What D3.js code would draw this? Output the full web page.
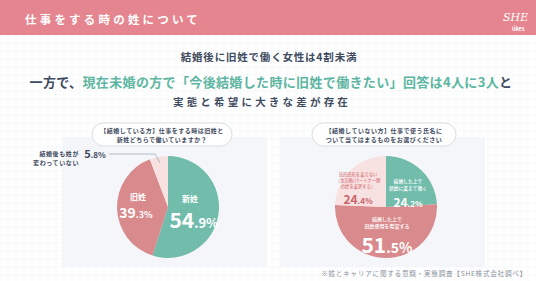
<!DOCTYPE html>
<html>
<head>
<meta charset="utf-8">
<script src="https://cdn.jsdelivr.net/npm/d3@7"></script>
<style>
  body { margin: 0; background: #fff; }
  svg { display: block; font-family: "Noto Sans CJK JP", "Noto Sans", sans-serif; }
</style>
</head>
<body>
<div id="chart"></div>
<script>
// data
const marriedLabels = ["新姓", "旧姓", "結婚後も姓が変わっていない"];
const marriedValues = [54.9, 39.3, 5.8];
const unmarriedLabels = ["結婚した上で新姓に変えて働く", "結婚した上で旧姓使用を希望する", "法的氏名を変えない（事実婚/パートナー側の姓を変更する）"];
const unmarriedValues = [24.2, 51.5, 24.4];
const questions = [
    ["【結婚している方】仕事をする時は旧姓と", "新姓どちらで働いていますか？"],
    ["【結婚していない方】仕事で使う氏名に", "ついて当てはまるものをお選びください"]
];

const W = 536, H = 281;
const teal = "#72bcac", pink = "#d98a8c", lightPink = "#f8e1e1";
const navy = "#3f4b5e", green = "#5db6a2";

const svg = d3.select("#chart").append("svg")
    .attr("width", W)
    .attr("height", H);

// faint grid background
const grid = svg.append("g");
grid.selectAll("line.v").data(d3.range(0, W, 8)).enter()
    .append("line")
    .attr("x1", d => d).attr("x2", d => d)
    .attr("y1", 35).attr("y2", H)
    .attr("stroke", "#f1f4f7").attr("stroke-width", 0.6);
grid.selectAll("line.h").data(d3.range(35, H, 8)).enter()
    .append("line")
    .attr("x1", 0).attr("x2", W)
    .attr("y1", d => d).attr("y2", d => d)
    .attr("stroke", "#f1f4f7").attr("stroke-width", 0.6);

// header
svg.append("rect").attr("width", W).attr("height", 35).attr("fill", "#e5858f");
svg.append("text")
    .attr("x", 25).attr("y", 24)
    .attr("fill", "#fff")
    .attr("font-size", 11.5)
    .attr("font-weight", 700)
    .attr("letter-spacing", 3.2)
    .text("仕事をする時の姓について");
svg.append("text")
    .attr("x", 503).attr("y", 21)
    .attr("fill", "#fff")
    .attr("font-size", 11)
    .attr("font-style", "italic")
    .attr("font-family", "DejaVu Serif")
    .text("SHE");
svg.append("text")
    .attr("x", 512).attr("y", 31)
    .attr("fill", "#fff")
    .attr("font-size", 5.5)
    .attr("font-weight", 700)
    .text("likes");

// headline
svg.append("text")
    .attr("x", 269).attr("y", 61)
    .attr("text-anchor", "middle")
    .attr("fill", navy)
    .attr("font-size", 10.5)
    .attr("font-weight", 700)
    .attr("letter-spacing", 0.8)
    .text("結婚後に旧姓で働く女性は4割未満");

const line2 = svg.append("text")
    .attr("x", 271).attr("y", 87)
    .attr("text-anchor", "middle")
    .attr("font-size", 13)
    .attr("font-weight", 700)
    .attr("letter-spacing", 0.35);
line2.append("tspan").attr("fill", navy).text("一方で、");
line2.append("tspan").attr("fill", green).text("現在未婚の方で「今後結婚した時に旧姓で働きたい」回答は4人に3人");
line2.append("tspan").attr("fill", navy).text("と");

svg.append("text")
    .attr("x", 262).attr("y", 106)
    .attr("text-anchor", "middle")
    .attr("fill", navy)
    .attr("font-size", 10.5)
    .attr("font-weight", 700)
    .attr("letter-spacing", 3.2)
    .text("実態と希望に大きな差が存在");

// panels
[62, 280].forEach(x => {
    svg.append("rect")
        .attr("x", x).attr("y", 137)
        .attr("width", 205).attr("height", 130)
        .attr("fill", "#f4f6f9");
});

// question bubbles
[[92, 162], [312, 384]].forEach(([x, cx], i) => {
    svg.append("rect")
        .attr("x", x).attr("y", 123)
        .attr("width", 2 * (cx - x)).attr("height", 23)
        .attr("rx", 11.5)
        .attr("fill", "#fff")
        .attr("stroke", "#c9d0d8")
        .attr("stroke-width", 0.7);
    questions[i].forEach((t, j) => {
        svg.append("text")
            .attr("x", cx).attr("y", 132.5 + j * 9)
            .attr("text-anchor", "middle")
            .attr("fill", navy)
            .attr("font-size", 6)
            .attr("font-weight", 700)
            .attr("letter-spacing", 0.5)
            .text(t);
    });
});

const pie = d3.pie().sort(null).value(d => d);
const R = 51;
const arc = d3.arc().innerRadius(0).outerRadius(R);

function pct(sel, value, big, small, color) {
    const parts = value.toFixed(1).split(".");
    const t = sel.attr("fill", color).attr("font-weight", 700).attr("text-anchor", "middle");
    t.append("tspan").attr("font-size", big).text(parts[0]);
    t.append("tspan").attr("font-size", small).text("." + parts[1] + "%");
    return t;
}

// left pie
const leftG = svg.append("g").attr("transform", "translate(168,207)");
const leftColors = [teal, pink, lightPink];
leftG.selectAll("path").data(pie(marriedValues)).enter()
    .append("path")
    .attr("d", arc)
    .attr("fill", (d, i) => leftColors[i]);

leftG.append("text").attr("x", 22).attr("y", -5)
    .attr("text-anchor", "middle").attr("fill", "#fff")
    .attr("font-size", 8).attr("font-weight", 700).text(marriedLabels[0]);
pct(leftG.append("text").attr("x", 26).attr("y", 21), marriedValues[0], 21, 13, "#fff");
leftG.append("text").attr("x", -30).attr("y", -7)
    .attr("text-anchor", "middle").attr("fill", "#fff")
    .attr("font-size", 8).attr("font-weight", 700).text(marriedLabels[1]);
pct(leftG.append("text").attr("x", -32).attr("y", 11), marriedValues[1], 14, 9, "#fff");

// leader for the small slice
const small = pie(marriedValues)[2];
const mid = (small.startAngle + small.endAngle) / 2;
const px = Math.sin(mid) * (R - 6), py = -Math.cos(mid) * (R - 6);
leftG.append("polyline")
    .attr("points", [[-59, -53], [-13, -53], [px, py]].map(p => p.join(",")).join(" "))
    .attr("fill", "none")
    .attr("stroke", "#8a96a6")
    .attr("stroke-width", 0.6);
pct(leftG.append("text").attr("x", -73).attr("y", -49), marriedValues[2], 11, 8, navy);
["結婚後も姓が", "変わっていない"].forEach((t, j) => {
    leftG.append("text")
        .attr("x", -89).attr("y", -51 + j * 9)
        .attr("text-anchor", "end")
        .attr("fill", navy)
        .attr("font-size", 6)
        .attr("font-weight", 700)
        .attr("letter-spacing", 0.6)
        .text(t);
});

// right pie
const rightG = svg.append("g").attr("transform", "translate(386,207)");
const rightColors = [teal, pink, lightPink];
rightG.selectAll("path").data(pie(unmarriedValues)).enter()
    .append("path")
    .attr("d", arc)
    .attr("fill", (d, i) => rightColors[i]);

function lines(g, x, y, arr, color, size, gap) {
    arr.forEach((t, j) => {
        g.append("text")
            .attr("x", x).attr("y", y + j * gap)
            .attr("text-anchor", "middle")
            .attr("fill", color)
            .attr("font-size", size)
            .attr("font-weight", 500)
            .text(t);
    });
}
lines(rightG, 22, -24, ["結婚した上で", "新姓に変えて働く"], "#fff", 4.8, 6.5);
pct(rightG.append("text").attr("x", 22).attr("y", 0), unmarriedValues[0], 12, 8, "#fff");
lines(rightG, 1, 14, ["結婚した上で", "旧姓使用を希望する"], "#fff", 5, 7);
pct(rightG.append("text").attr("x", 1).attr("y", 46), unmarriedValues[1], 21, 14, "#fff");
lines(rightG, -28, -31.5, ["法的氏名を変えない", "（事実婚/パートナー側", "の姓を変更する）"], "#d7797e", 4.3, 6.1);
pct(rightG.append("text").attr("x", -28).attr("y", -3), unmarriedValues[2], 12, 8, "#c8646b");

// footnote
svg.append("text")
    .attr("x", 527).attr("y", 276)
    .attr("text-anchor", "end")
    .attr("fill", "#8a929c")
    .attr("font-size", 6.6)
    .attr("letter-spacing", 0.75)
    .text("※姓とキャリアに関する意識・実態調査【SHE株式会社調べ】");
</script>
</body>
</html>
